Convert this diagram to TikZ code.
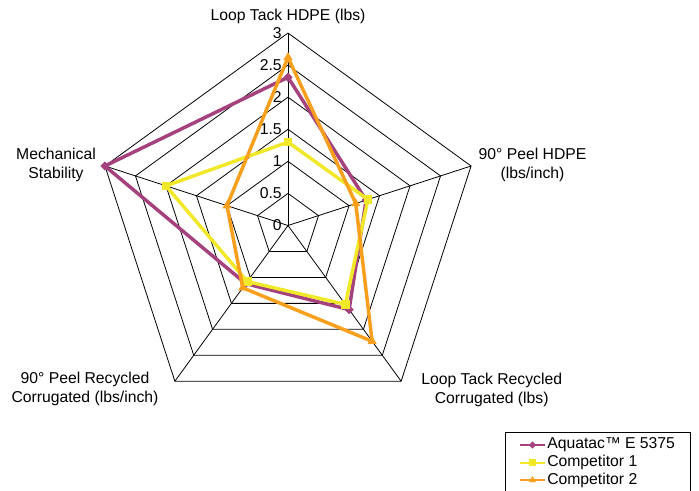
\documentclass[tikz,border=0pt]{standalone}
\usepackage{fontspec}
\setmainfont{Liberation Sans}
\usetikzlibrary{shapes.geometric}
\definecolor{aquacol}{RGB}{165,65,125}
\definecolor{compone}{RGB}{240,232,40}
\definecolor{comptwo}{RGB}{248,160,30}
\tikzset{
  gridline/.style={line width=0.6pt},
  lbl/.style={font=\fontsize{11.8}{14.2}\selectfont, align=center, inner sep=0pt},
  aqua/.style={draw=aquacol, line width=2.6pt, line join=round},
  cone/.style={draw=compone, line width=2.6pt, line join=round},
  ctwo/.style={draw=comptwo, line width=2.6pt, line join=round},
  aquamark/.style={diamond, fill=aquacol, inner sep=0pt, minimum size=7pt},
  conemark/.style={rectangle, fill=compone, inner sep=0pt, minimum size=6.5pt},
  ctwomark/.style={regular polygon, regular polygon sides=3, fill=comptwo, inner sep=0pt, minimum size=8pt},
}
\begin{document}
\begin{tikzpicture}[x=0.75pt,y=0.75pt,yscale=-1]
\useasboundingbox (0,0) rectangle (699,491);

\begin{scope}[shift={(288,225.5)}]
%Grid rings and spokes
\foreach \r in {1,...,6}
  \draw[gridline] (-90:{\r*32.08}) -- (-18:{\r*32.08}) -- (54:{\r*32.08}) -- (126:{\r*32.08}) -- (198:{\r*32.08}) -- cycle;
\foreach \a in {-90,-18,54,126,198}
  \draw[gridline] (0,0) -- (\a:192.5);

%Tick labels
\foreach \t [count=\i from 0] in {0,0.5,1,1.5,2,2.5,3}
  \node[lbl, anchor=east] (tick\i) at (-6,{-\i*32.08}) {\t};

%Data points
\foreach \v [count=\i from 0] in {2.31,1.28,1.62,1.12,3.0}
  \coordinate (a\i) at ({-90+72*\i}:{\v*64.17});
\foreach \v [count=\i from 0] in {1.30,1.31,1.52,1.08,2.0}
  \coordinate (p\i) at ({-90+72*\i}:{\v*64.17});
\foreach \v [count=\i from 0] in {2.62,1.11,2.23,1.20,1.0}
  \coordinate (q\i) at ({-90+72*\i}:{\v*64.17});

%Aquatac E 5375
\draw[aqua] (a0) -- (a1) -- (a2) -- (a3) -- (a4) -- cycle;
\foreach \i in {0,...,4} \node[aquamark] (am\i) at (a\i) {};
%Competitor 1
\draw[cone] (p0) -- (p1) -- (p2) -- (p3) -- (p4) -- cycle;
\foreach \i in {0,...,4} \node[conemark] (pm\i) at (p\i) {};
%Competitor 2
\draw[ctwo] (q0) -- (q1) -- (q2) -- (q3) -- (q4) -- cycle;
\foreach \i in {0,...,4} \node[ctwomark] (qm\i) at (q\i) {};
\end{scope}

% Axis titles
\node[lbl] (loophdpe) at (288,16) {Loop Tack HDPE (lbs)};
\node[lbl] (peelhdpe) at (532.5,165) {90° Peel HDPE\\(lbs/inch)};
\node[lbl] (looprec) at (491.7,390) {Loop Tack Recycled\\Corrugated (lbs)};
\node[lbl] (peelrec) at (85,388.5) {90° Peel Recycled\\Corrugated (lbs/inch)};
\node[lbl] (mech) at (56,164.7) {Mechanical\\Stability};

% Legend
\draw[gridline] (505.7,495) -- (505.7,432.7) -- (690.7,432.7) -- (690.7,495);
\coordinate (l1a) at (520,445);   \coordinate (l1b) at (545,445);
\coordinate (l2a) at (520,462.5); \coordinate (l2b) at (545,462.5);
\coordinate (l3a) at (520,480);   \coordinate (l3b) at (545,480);
\draw[draw=aquacol, line width=1.5pt] (l1a) -- (l1b);
\node[aquamark, minimum size=5.5pt] (lm1) at (532.5,445) {};
\node[lbl, anchor=west] (lt1) at (547,445) {Aquatac™ E 5375};
\draw[draw=compone, line width=1.5pt] (l2a) -- (l2b);
\node[conemark, minimum size=5pt] (lm2) at (532.5,462.5) {};
\node[lbl, anchor=west] (lt2) at (547,462.5) {Competitor 1};
\draw[draw=comptwo, line width=1.5pt] (l3a) -- (l3b);
\node[ctwomark, minimum size=6pt] (lm3) at (532.5,480) {};
\node[lbl, anchor=west] (lt3) at (547,480) {Competitor 2};
\end{tikzpicture}
\end{document}
